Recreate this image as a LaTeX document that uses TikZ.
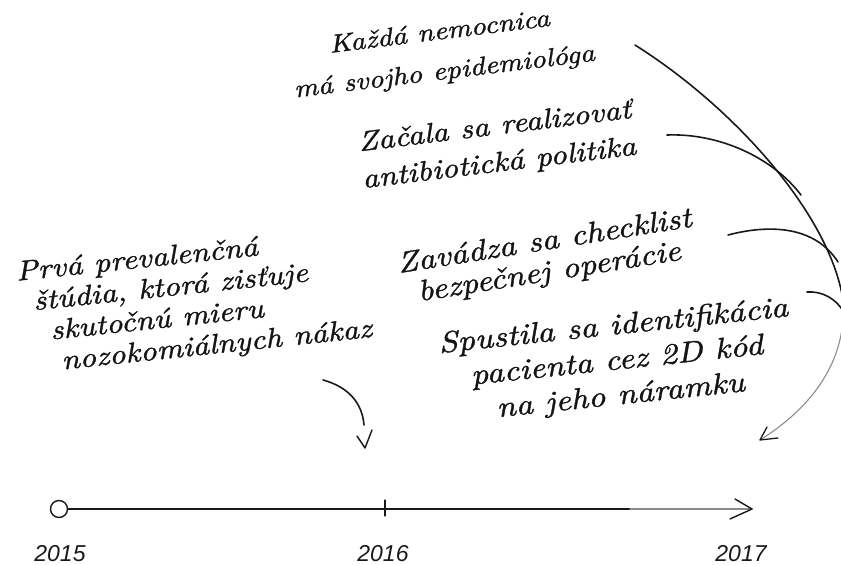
\documentclass[tikz,border=0pt]{standalone}
\usepackage{fontspec}
\newfontfamily\yearfont{Liberation Sans}
\newfontfamily\hand{lmroman10-italic}[Extension=.otf, FakeStretch=1.15, FakeBold=1.2]
\tikzset{
  note/.style={align=center, text=black!92, inner sep=0pt},
  conn/.style={line width=1.6pt, line cap=round, line join=round, draw=black!90},
  faded/.style={line width=1.1pt, line cap=round, draw=black!45},
  yearlbl/.style={font=\yearfont\itshape\fontsize{23}{26}\selectfont, anchor=base, inner sep=0pt, text=black!90}
}
\begin{document}
\begin{tikzpicture}[x=1pt,y=-1pt]
\useasboundingbox (0,0) rectangle (841,565);
\clip (0,0) rectangle (841,565);
\fill[white] (0,0) rectangle (841,565);

% texts
\node[note, rotate=6, align=left, font=\hand\fontsize{28}{31}\selectfont] (prva) at (194,302)
  {Prvá prevalenčná\\\hspace*{14pt}štúdia, ktorá zisťuje\\\hspace*{28pt}skutočnú mieru\\\hspace*{36pt}nozokomiálnych nákaz};
\node[note, rotate=7, font=\hand\fontsize{25.5}{40}\selectfont] (kazda) at (442,53)
  {Každá nemocnica\\má svojho epidemiológa};
\node[note, rotate=7, font=\hand\fontsize{28}{37}\selectfont] (zacala) at (497,146)
  {Začala sa realizovať\\antibiotická politika};
\node[note, rotate=9, font=\hand\fontsize{29.5}{31}\selectfont] (zavadza) at (547,258)
  {Zavádza sa checklist\\bezpečnej operácie};
\node[note, rotate=6, font=\hand\fontsize{29.5}{35}\selectfont] (spustila) at (617,362)
  {Spustila sa identifikácia\\pacienta cez 2D kód\\na jeho náramku};

% right-hand arrows
\coordinate (a1s) at (635,45);
\coordinate (a1m) at (843,300);
\coordinate (a1e) at (760,440);
\draw[conn] (a1s) .. controls (735,108) and (830,215) .. (a1m);
\draw[faded] (a1m) .. controls (848,370) and (800,415) .. (a1e);
\draw[conn, line width=1.3pt] (a1e) ++(7,-13) -- (a1e) -- ++(18,-2);

\coordinate (a2s) at (667,135);
\coordinate (a2e) at (801,195);
\draw[conn] (a2s) .. controls (720,133) and (773,158) .. (a2e);

\coordinate (a3s) at (728,235);
\coordinate (a3e) at (838,262);
\draw[conn] (a3s) .. controls (770,224) and (815,226) .. (a3e);

\coordinate (a4s) at (807,292);
\coordinate (a4e) at (845,314);
\draw[conn] (a4s) .. controls (822,291) and (836,298) .. (a4e);

% left arrow
\coordinate (b1s) at (323,380);
\coordinate (b1m) at (364,425);
\coordinate (b1e) at (365,448);
\draw[conn] (b1s) .. controls (345,386) and (362,400) .. (b1m);
\draw[conn, line width=1.4pt] (b1e) ++(-8,-12) -- (b1e) -- ++(7,-18);

% timeline
\node[draw=black!90, circle, minimum size=17pt, inner sep=0pt, line width=1.4pt] (c0) at (59,509) {};
\coordinate (t16) at (385,509);
\coordinate (fade) at (630,509);
\coordinate (tip) at (752,509);
\draw[conn, line width=1.5pt] (c0.east) -- (fade);
\draw[faded] (fade) -- (tip);
\draw[conn, line width=1.3pt] (t16) ++(0,-9) -- ++(0,16);
\draw[conn, line width=1.4pt] (tip) ++(-17,-10) -- (tip) -- ++(-22,10);

\node[yearlbl] (y15) at (60,561) {2015};
\node[yearlbl] (y16) at (383,561) {2016};
\node[yearlbl] (y17) at (741,561) {2017};
\end{tikzpicture}
\end{document}
